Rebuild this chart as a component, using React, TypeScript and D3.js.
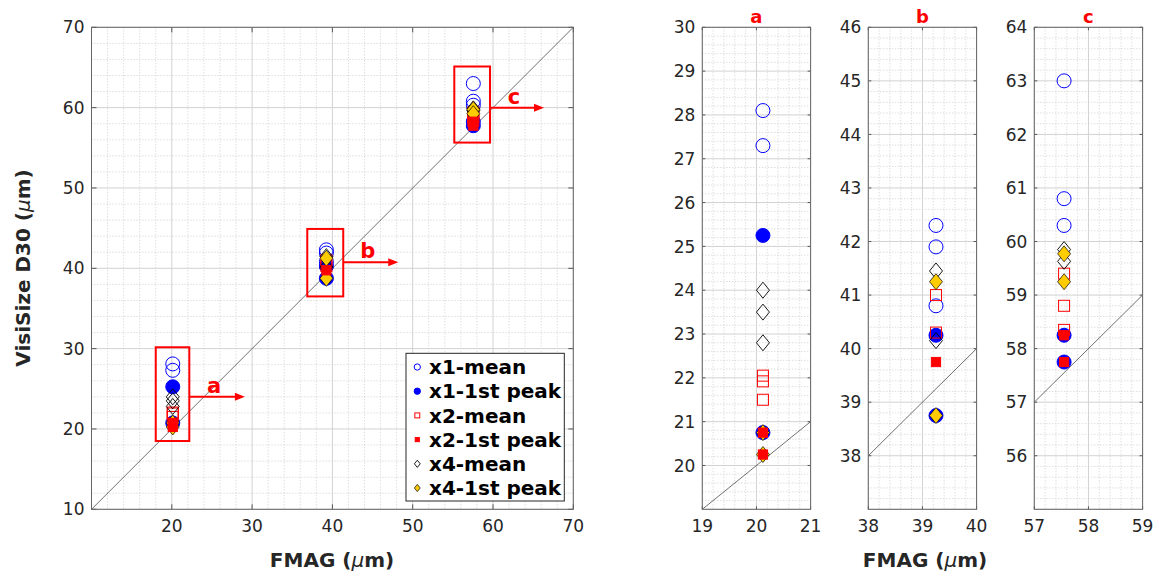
import React from "react";
import * as d3 from "d3";

// ---------- data ----------
const clusterFMAG = [20.12, 39.25, 57.55];
const x1Mean = [[28.1, 27.3], [42.3, 41.9, 40.8], [63.0, 60.8, 60.3]];
const x1Peak = [[25.25, 20.75], [40.25, 38.75], [58.25, 57.75]];
const x2Mean = [[22.05, 21.92, 21.5], [41.0, 40.3], [59.4, 58.8, 58.35]];
const x2Peak = [[20.75, 20.25], [39.75], [58.25, 57.75]];
const x4Mean = [[24.0, 23.5, 22.8], [41.45, 40.15], [59.85, 59.63]];
const x4Peak = [[20.75, 20.25], [41.25, 38.75], [59.77, 59.25]];

const legendLabels = ["x1-mean", "x1-1st peak", "x2-mean", "x2-1st peak", "x4-mean", "x4-1st peak"];
const subTitles = ["a", "b", "c"];
const mainXTicks = [20, 30, 40, 50, 60, 70];
const mainYTicks = [10, 20, 30, 40, 50, 60, 70];
const subXDomains = [[19, 21], [38, 40], [57, 59]];
const subYDomains = [[19, 30], [37, 46], [55, 64]];
// zoom boxes on main plot: [xmin, xmax, ymin, ymax], arrow y, arrow tip x
const zoomBoxes = [[18.0, 22.18, 18.5, 30.17], [36.87, 41.35, 36.5, 44.9], [55.18, 59.63, 55.65, 65.12]];
const arrowY = [24.0, 40.76, 60.0];
const arrowTip = [29.1, 48.2, 66.35];

// ---------- style ----------
const FONT = "DejaVu Sans";
const TXT = "#262626";
const TOP = 27.3;
const BOT = 509.3;

type SeriesStyle = { key: string; data: number[][]; shape: string };
const series: SeriesStyle[] = [
  { key: "x1Peak", data: x1Peak, shape: "circleFilled" },
  { key: "x1Mean", data: x1Mean, shape: "circleOpen" },
  { key: "x2Mean", data: x2Mean, shape: "squareOpen" },
  { key: "x4Mean", data: x4Mean, shape: "diamondOpen" },
  { key: "x4Peak", data: x4Peak, shape: "diamondFilled" },
  { key: "x2Peak", data: x2Peak, shape: "squareFilled" },
];
const legendShapes = ["circleOpen", "circleFilled", "squareOpen", "squareFilled", "diamondOpen", "diamondFilled"];

function Marker({ shape, x, y, s = 1 }: { shape: string; x: number; y: number; s?: number }) {
  if (shape === "circleOpen")
    return <circle cx={x} cy={y} r={7 * s} fill="none" stroke="#0000ff" strokeWidth={1} />;
  if (shape === "circleFilled")
    return <circle cx={x} cy={y} r={7 * s} fill="#0000ff" stroke="#0000ff" strokeWidth={1} />;
  if (shape === "squareOpen") {
    const h = 5.5 * s;
    return <rect x={x - h} y={y - h} width={2 * h} height={2 * h} fill="none" stroke="#ff0000" strokeWidth={1} />;
  }
  if (shape === "squareFilled") {
    const h = 4.6 * s;
    return <rect x={x - h} y={y - h} width={2 * h} height={2 * h} fill="#ff0000" stroke="#ff0000" strokeWidth={1} />;
  }
  const hw = 6.5 * s, hh = 8 * s;
  const pts = `${x},${y - hh} ${x + hw},${y} ${x},${y + hh} ${x - hw},${y}`;
  if (shape === "diamondOpen") return <polygon points={pts} fill="none" stroke="#000" strokeWidth={0.9} />;
  return <polygon points={pts} fill="#ffcc00" stroke="#000" strokeWidth={0.7} />;
}

function round(v: number) {
  return Math.round(v * 1000) / 1000;
}

function Panel({
  id, left, right, xDom, yDom, xTicks, yTicks, minor, clusters, title, children,
}: {
  id: string; left: number; right: number; xDom: number[]; yDom: number[];
  xTicks: number[]; yTicks: number[]; minor: number; clusters: number[]; title?: string;
  children?: (x: d3.ScaleLinear<number, number>, y: d3.ScaleLinear<number, number>) => React.ReactNode;
}) {
  const x = d3.scaleLinear().domain(xDom).range([left, right]);
  const y = d3.scaleLinear().domain(yDom).range([BOT, TOP]);
  const majX = d3.range(Math.ceil(xDom[0]), xDom[1] + 1e-9, id === "main" ? 10 : 1).map(round);
  const majY = d3.range(Math.ceil(yDom[0]), yDom[1] + 1e-9, id === "main" ? 10 : 1).map(round);
  const isMaj = (v: number, arr: number[]) => arr.some((m) => Math.abs(m - v) < 1e-6);
  const minX = d3.range(xDom[0], xDom[1] + 1e-9, minor).map(round).filter((v) => !isMaj(v, majX));
  const minY = d3.range(yDom[0], yDom[1] + 1e-9, minor).map(round).filter((v) => !isMaj(v, majY));
  const clipId = `clip-${id}`;
  const tickLen = id === "main" ? 5 : 3;
  return (
    <g>
      <defs>
        <clipPath id={clipId}>
          <rect x={left} y={TOP} width={right - left} height={BOT - TOP} />
        </clipPath>
      </defs>
      <rect x={left} y={TOP} width={right - left} height={BOT - TOP} fill="#fff" />
      {minX.map((v) => (
        <line key={`mx${v}`} x1={x(v)} x2={x(v)} y1={TOP} y2={BOT} stroke="#c4c4c4" strokeWidth={0.8} strokeDasharray="1,2" />
      ))}
      {minY.map((v) => (
        <line key={`my${v}`} x1={left} x2={right} y1={y(v)} y2={y(v)} stroke="#c4c4c4" strokeWidth={0.8} strokeDasharray="1,2" />
      ))}
      {majX.map((v) => (
        <line key={`Mx${v}`} x1={x(v)} x2={x(v)} y1={TOP} y2={BOT} stroke="#d2d2d2" strokeWidth={1} />
      ))}
      {majY.map((v) => (
        <line key={`My${v}`} x1={left} x2={right} y1={y(v)} y2={y(v)} stroke="#d2d2d2" strokeWidth={1} />
      ))}
      <g clipPath={`url(#${clipId})`}>
        <line
          x1={x(Math.max(xDom[0], yDom[0]))} y1={y(Math.max(xDom[0], yDom[0]))}
          x2={x(Math.min(xDom[1], yDom[1]))} y2={y(Math.min(xDom[1], yDom[1]))}
          stroke="#333" strokeWidth={0.7}
        />
        {series.map((s) =>
          s.data.map((vals, ci) =>
            vals.map((v, j) => (
              <Marker key={`${s.key}-${ci}-${j}`} shape={s.shape} x={x(clusters[ci])} y={y(v)} />
            ))
          )
        )}
      </g>
      {/* ticks */}
      {xTicks.map((v) => (
        <g key={`tx${v}`}>
          <line x1={x(v)} x2={x(v)} y1={BOT} y2={BOT - tickLen} stroke="#555" />
          <line x1={x(v)} x2={x(v)} y1={TOP} y2={TOP + tickLen} stroke="#555" />
          <text x={x(v)} y={532} textAnchor="middle" fontFamily={FONT} fontSize={17} fill={TXT}>{v}</text>
        </g>
      ))}
      {yTicks.map((v) => (
        <g key={`ty${v}`}>
          <line x1={left} x2={left + tickLen} y1={y(v)} y2={y(v)} stroke="#555" />
          <line x1={right} x2={right - tickLen} y1={y(v)} y2={y(v)} stroke="#555" />
          <text x={left - 7} y={y(v)} dy="0.36em" textAnchor="end" fontFamily={FONT} fontSize={17} fill={TXT}>{v}</text>
        </g>
      ))}
      <rect x={left} y={TOP} width={right - left} height={BOT - TOP} fill="none" stroke="#666" strokeWidth={1} />
      {title && (
        <text x={(left + right) / 2} y={22.5} textAnchor="middle" fontFamily={FONT} fontWeight="bold" fontSize={18} fill="#ff0000">
          {title}
        </text>
      )}
      {children && children(x, y)}
    </g>
  );
}

export default function App() {
  const subLefts = [702.3, 868.3, 1034.3];
  const subWidth = 108.3;
  return (
    <svg width={1159} height={577} style={{ display: "block", position: "absolute", left: 0, top: 0 }}>
      <rect x={0} y={0} width={1159} height={577} fill="#fff" />
      <Panel
        id="main" left={91.5} right={573.3} xDom={[10, 70]} yDom={[10, 70]}
        xTicks={mainXTicks} yTicks={mainYTicks} minor={2} clusters={clusterFMAG}
      >
        {(x, y) => (
          <g>
            {zoomBoxes.map((b, i) => (
              <g key={`zb${i}`}>
                <rect x={x(b[0])} y={y(b[3])} width={x(b[1]) - x(b[0])} height={y(b[2]) - y(b[3])}
                  fill="none" stroke="#ff0000" strokeWidth={2} />
                <line x1={x(b[1])} x2={x(arrowTip[i]) - 8} y1={y(arrowY[i])} y2={y(arrowY[i])} stroke="#ff0000" strokeWidth={2} />
                <polygon
                  points={`${x(arrowTip[i])},${y(arrowY[i])} ${x(arrowTip[i]) - 10},${y(arrowY[i]) - 4} ${x(arrowTip[i]) - 10},${y(arrowY[i]) + 4}`}
                  fill="#ff0000"
                />
                <text x={(x(b[1]) + x(arrowTip[i])) / 2 - 3} y={y(arrowY[i]) - 4} textAnchor="middle"
                  fontFamily={FONT} fontWeight="bold" fontSize={21} fill="#ff0000">
                  {subTitles[i]}
                </text>
              </g>
            ))}
            {/* legend */}
            <rect x={406} y={353.3} width={158.3} height={147.7} fill="#fff" stroke="#262626" strokeWidth={1} />
            {legendLabels.map((lab, i) => {
              const cy = 367 + i * 24.2;
              return (
                <g key={lab}>
                  <Marker shape={legendShapes[i]} x={417.3} y={cy} s={0.45} />
                  <text x={429} y={cy} dy="0.36em" fontFamily={FONT} fontWeight="bold" fontSize={20} fill="#000">
                    {lab}
                  </text>
                </g>
              );
            })}
          </g>
        )}
      </Panel>
      {subLefts.map((l, i) => (
        <Panel
          key={`sub${i}`} id={`s${i}`} left={l} right={l + subWidth}
          xDom={subXDomains[i]} yDom={subYDomains[i]}
          xTicks={d3.range(subXDomains[i][0], subXDomains[i][1] + 1)}
          yTicks={d3.range(subYDomains[i][0] + 1, subYDomains[i][1] + 1)}
          minor={0.2} clusters={clusterFMAG.map((c, k) => (k === i ? c : -100))} title={subTitles[i]}
        />
      ))}
      {/* axis labels */}
      <text x={332} y={567} textAnchor="middle" fontFamily={FONT} fontWeight="bold" fontSize={20} fill={TXT}>
        FMAG (<tspan fontStyle="italic" fontWeight="normal">μ</tspan>m)
      </text>
      <text x={925} y={567} textAnchor="middle" fontFamily={FONT} fontWeight="bold" fontSize={20} fill={TXT}>
        FMAG (<tspan fontStyle="italic" fontWeight="normal">μ</tspan>m)
      </text>
      <text transform="translate(30,268) rotate(-90)" textAnchor="middle" fontFamily={FONT} fontWeight="bold" fontSize={20} fill={TXT}>
        VisiSize D30 (<tspan fontStyle="italic" fontWeight="normal">μ</tspan>m)
      </text>
    </svg>
  );
}
